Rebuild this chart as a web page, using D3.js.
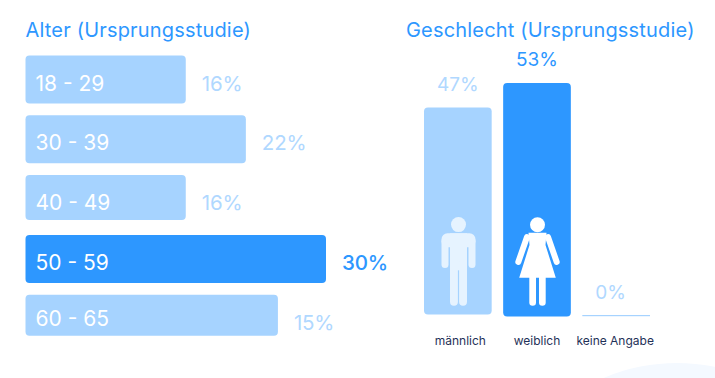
<!DOCTYPE html>
<html>
<head>
<meta charset="utf-8">
<script src="https://cdn.jsdelivr.net/npm/d3@7"></script>
<style>
  html, body { margin: 0; background: #fff; }
  svg { display: block; font-family: Inter, sans-serif; }
</style>
</head>
<body>
<div id="chart"></div>
<script>
// Age panel
const ageCategories = ["18 - 29", "30 - 39", "40 - 49", "50 - 59", "60 - 65"];
// bar lengths as drawn; the last bar is longer than its printed label
const ageBarValues = [16, 22, 16, 30, 25.2];
const ageLabels = ["16%", "22%", "16%", "30%", "15%"];

// Gender panel
const genderCategories = ["männlich", "weiblich", "keine Angabe"];
const genderValues = [47, 53, 0];
const genderLabels = ["47%", "53%", "0%"];

const light = "#a6d3ff";
const dark = "#2d97ff";
const lightText = "#b0d8ff";

const svg = d3.select("#chart").append("svg").attr("width", 715).attr("height", 378);

// background blob, bottom right
svg.append("circle").attr("cx", 677).attr("cy", 550).attr("r", 187).attr("fill", "#f4f9ff");

// ==== AGE BARS ====
const ageX = d3.scaleLinear().domain([0, 30]).range([25.5, 326]);
const ageY = d3.scaleBand().domain(ageCategories).range([55.5, 342.7]).paddingInner(0.197);
const rowTrim = [0, 0, 3, 0, 7]; // some rows are shorter in the original
const maxAge = d3.max(ageBarValues);

svg.append("text").attr("x", 25.5).attr("y", 36.7)
  .attr("font-size", 20).attr("letter-spacing", 0.18).attr("fill", dark).text("Alter (Ursprungsstudie)");

const rows = svg.selectAll(".row").data(ageCategories).enter().append("g").attr("class", "row");

rows.append("rect")
  .attr("x", ageX(0))
  .attr("y", (d) => ageY(d))
  .attr("width", (d, i) => ageX(ageBarValues[i]) - ageX(0))
  .attr("height", (d, i) => ageY.bandwidth() - rowTrim[i])
  .attr("rx", 4)
  .attr("fill", (d, i) => (ageBarValues[i] === maxAge ? dark : light));

rows.append("text")
  .attr("x", ageX(0) + 10)
  .attr("y", (d, i) => ageY(d) + (i === 4 ? 31 : 35))
  .attr("font-size", 21)
  .attr("fill", "#fff")
  .text((d) => d);

rows.append("text")
  .attr("x", (d, i) => ageX(ageBarValues[i]) + 16)
  .attr("y", (d) => ageY(d) + 35)
  .attr("font-size", 20.5)
  .attr("letter-spacing", -0.2)
  .attr("fill", (d, i) => (ageBarValues[i] === maxAge ? dark : lightText))
  .attr("font-weight", (d, i) => (ageBarValues[i] === maxAge ? 500 : 400))
  .text((d, i) => ageLabels[i]);

// ==== GENDER BARS ====
const genderX = d3.scaleBand().domain(genderCategories).range([424, 650]).paddingInner(0.145);
const genderY = d3.scaleLinear().domain([0, 53]).range([316.5, 83]);
const maxGender = d3.max(genderValues);

svg.append("text").attr("x", 406).attr("y", 36.7)
  .attr("font-size", 20).attr("letter-spacing", 0.18).attr("fill", dark).text("Geschlecht (Ursprungsstudie)");

const columns = svg.selectAll(".col").data(genderCategories).enter().append("g").attr("class", "col");

columns.append("rect")
  .attr("x", (d) => genderX(d))
  .attr("y", (d, i) => genderY(genderValues[i]) - (i === 0 ? 2 : 0))
  .attr("width", genderX.bandwidth())
  .attr("height", (d, i) => genderY(0) - genderY(genderValues[i]))
  .attr("rx", 4)
  .attr("fill", (d, i) => (genderValues[i] === maxGender ? dark : light));

// the empty category only shows a thin base line
columns.filter((d, i) => genderValues[i] === 0).append("rect")
  .attr("x", (d) => genderX(d))
  .attr("y", 315)
  .attr("width", genderX.bandwidth())
  .attr("height", 1.2)
  .attr("fill", light);

columns.append("text")
  .attr("x", (d, i) => genderX(d) + genderX.bandwidth() / 2 + (i === 2 ? -5.5 : 0))
  .attr("y", (d, i) => genderY(genderValues[i]) - (i === 1 ? 17 : 18))
  .attr("text-anchor", "middle")
  .attr("font-size", 19)
  .attr("fill", (d, i) => (genderValues[i] === maxGender ? dark : lightText))
  .text((d, i) => genderLabels[i]);

columns.append("text")
  .attr("x", (d, i) => genderX(d) + genderX.bandwidth() / 2 + (i === 1 ? 0 : i === 0 ? 2.5 : -1))
  .attr("y", 345)
  .attr("text-anchor", "middle")
  .attr("font-size", 12)
  .attr("fill", "#1f3158")
  .text((d) => d);

// ==== ICONS ====
function addMale(cx, color) {
  const g = svg.append("g").attr("transform", `translate(${cx},0)`).attr("fill", color);
  g.append("circle").attr("cy", 224.6).attr("r", 7.5);
  g.append("rect").attr("x", -17).attr("y", 233.3).attr("width", 34).attr("height", 14).attr("rx", 6);
  [-17, 10].forEach((x) => {
    g.append("rect").attr("x", x).attr("y", 238).attr("width", 7).attr("height", 30).attr("rx", 3.5);
  });
  g.append("rect").attr("x", -8.5).attr("y", 233.3).attr("width", 17).attr("height", 37);
  [-8.5, 0.6].forEach((x) => {
    g.append("rect").attr("x", x).attr("y", 258).attr("width", 7.9).attr("height", 47.7).attr("rx", 3.9);
  });
}

function addFemale(cx, color) {
  const g = svg.append("g").attr("transform", `translate(${cx},0)`).attr("fill", color);
  g.append("circle").attr("cy", 224.7).attr("r", 7.5);
  g.append("path").attr("d", "M-9,232.7 H9 L8,245 L18.3,277.7 H-18.3 L-8,245 Z");
  [-1, 1].forEach((s) => {
    g.append("line")
      .attr("x1", s * 10.5).attr("y1", 237)
      .attr("x2", s * 19.2).attr("y2", 262)
      .attr("stroke", color).attr("stroke-width", 6).attr("stroke-linecap", "round");
    g.append("rect")
      .attr("x", s < 0 ? -8.2 : 1.5).attr("y", 270).attr("width", 6.7).attr("height", 35.7).attr("rx", 3.3);
  });
}

addMale(458.5, "#e6f3ff");
addFemale(537.5, "#fff");
</script>
</body>
</html>
